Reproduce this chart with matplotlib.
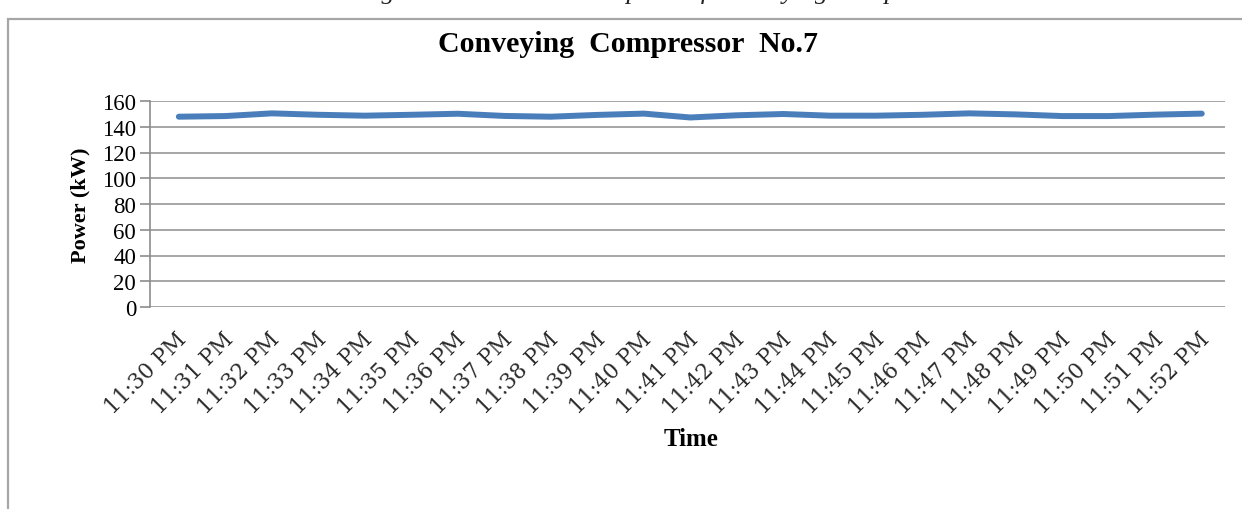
import matplotlib.pyplot as plt
from matplotlib.patches import Rectangle
from matplotlib.transforms import ScaledTranslation

# minutes from 11:30 PM to 11:52 PM
times = ["11:30 PM", "11:31 PM", "11:32 PM", "11:33 PM", "11:34 PM", "11:35 PM",
         "11:36 PM", "11:37 PM", "11:38 PM", "11:39 PM", "11:40 PM", "11:41 PM",
         "11:42 PM", "11:43 PM", "11:44 PM", "11:45 PM", "11:46 PM", "11:47 PM",
         "11:48 PM", "11:49 PM", "11:50 PM", "11:51 PM", "11:52 PM"]
power_kw = [147.8, 148.3, 150.4, 149.3, 148.6, 149.3, 150.1, 148.4, 147.8, 149.2,
            150.2, 147.2, 148.9, 149.9, 148.6, 148.6, 149.3, 150.4, 149.6, 148.3,
            148.3, 149.4, 150.2]
y_ticks = [0, 20, 40, 60, 80, 100, 120, 140, 160]

serif = ["Liberation Serif", "DejaVu Serif"]
plt.rcParams['font.family'] = serif

fig = plt.figure(figsize=(12.42, 5.10), dpi=100)
ax = fig.add_axes([150 / 1242, 1 - 308 / 510, 1075 / 1242, 206 / 510])

# outer frame of the chart (runs off the right and bottom edges)
fig.patches.append(Rectangle((8 / 1242, -0.1), 1.2, 1 - 20 / 510 + 0.1,
                             transform=fig.transFigure, fill=False,
                             edgecolor="#a6a6a6", linewidth=1.6, zorder=0))
# caption of the figure above, clipped by the top edge (only descenders show)
fig.text(0.555, 1 + 1 / 510, "Figure 7: Power Consumption of Conveying Compressor No.7",
         ha="center", va="baseline", fontsize=19, fontstyle="italic", color="#222222")

x = list(range(len(times)))
ax.plot(x, power_kw, color="#4a7ebb", linewidth=4.3, solid_capstyle="round",
        solid_joinstyle="round", zorder=3)

ax.set_ylim(0, 160)
ax.set_xlim(-0.62, 22.5)
ax.set_yticks(y_ticks)
ax.yaxis.grid(True, color="#a6a6a6", linewidth=1.4)
ax.set_axisbelow(True)
for side in ["top", "right", "bottom"]:
    ax.spines[side].set_visible(False)
ax.spines["left"].set_color("#8c8c8c")
ax.spines["left"].set_linewidth(1.2)
ax.tick_params(axis="y", direction="out", length=7, width=1.2, color="#8c8c8c",
               labelsize=16.5, pad=3)
ax.tick_params(axis="x", length=0, pad=10)

ax.set_xticks(x)
ax.set_xticklabels(times, rotation=45, ha="right", rotation_mode="anchor",
                   color="#2a2a2a", fontsize=15.5, family=["DejaVu Serif"])
for lab in ax.get_xticklabels():
    lab.set_transform(lab.get_transform() + ScaledTranslation(-3 / 100, -7 / 100, fig.dpi_scale_trans))

fig.text(628 / 1242, 1 - 45 / 510, "Conveying  Compressor  No.7", ha="center",
         va="center", fontsize=21.5, fontweight="bold")
ax.set_ylabel("Power (kW)", fontsize=16, fontweight="bold", labelpad=8)
fig.text(691 / 1242, 1 - 440 / 510, "Time", ha="center", va="center",
         fontsize=18, fontweight="bold")

fig.savefig("out.png", dpi=100)
